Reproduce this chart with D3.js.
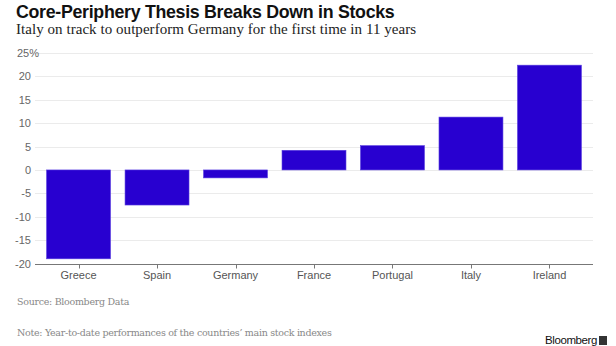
<!DOCTYPE html>
<html lang="en">
<head>
<meta charset="UTF-8">
<title>Core-Periphery Thesis Breaks Down in Stocks</title>
<style>
  body { margin: 0; background: #fff; }
  svg { display: block; }
</style>
</head>
<body>
<svg width="616" height="346"></svg>
<script src="https://d3js.org/d3.v7.min.js"></script>
<script>
var countries = ['Greece', 'Spain', 'Germany', 'France', 'Portugal', 'Italy', 'Ireland'];
var ytdChange = [-19.0, -7.5, -1.7, 4.2, 5.2, 11.3, 22.4];
var yTicks = [-20, -15, -10, -5, 0, 5, 10, 15, 20, 25];

var svg = d3.select('svg');

var x = d3.scaleBand()
    .domain(countries)
    .range([39.5, 588.5])
    .paddingInner(0.185)
    .paddingOuter(0.09);

var y = d3.scaleLinear()
    .domain([-20, 25])
    .range([263.5, 53]);

// horizontal grid
svg.append('g')
  .selectAll('line')
  .data(yTicks.filter(function(d) { return d > -20; }))
  .join('line')
    .attr('x1', 35).attr('x2', 593)
    .attr('y1', function(d) { return Math.round(y(d)) + 0.5; })
    .attr('y2', function(d) { return Math.round(y(d)) + 0.5; })
    .attr('stroke', '#ebebeb');

// y labels
svg.append('g')
  .selectAll('text')
  .data(yTicks)
  .join('text')
    .attr('x', function(d) { return d === 25 ? 39 : 31; })
    .attr('y', function(d) { return y(d) + 4; })
    .attr('text-anchor', 'end')
    .attr('font-family', 'Helvetica, Arial, "Liberation Sans", sans-serif')
    .attr('font-size', 11)
    .attr('fill', '#666')
    .text(function(d) { return d === 25 ? '25%' : d; });

// bars
svg.append('g')
  .selectAll('rect')
  .data(countries)
  .join('rect')
    .attr('x', function(d) { return x(d); })
    .attr('width', x.bandwidth())
    .attr('y', function(d, i) { return y(Math.max(0, ytdChange[i])); })
    .attr('height', function(d, i) { return Math.abs(y(ytdChange[i]) - y(0)); })
    .attr('fill', '#2800d0')
    .attr('stroke', '#5a3fe0')
    .attr('stroke-width', 0.6);

// x axis
var xAxis = svg.append('g')
    .attr('transform', 'translate(0,' + (Math.round(y(-20)) + 0.5) + ')');
xAxis.append('line')
    .attr('x1', 35).attr('x2', 593)
    .attr('stroke', '#777');
xAxis.selectAll('.tick')
  .data(countries)
  .join('line')
    .attr('x1', function(d) { return Math.round(x(d) + x.bandwidth() / 2) + 0.5; })
    .attr('x2', function(d) { return Math.round(x(d) + x.bandwidth() / 2) + 0.5; })
    .attr('y1', 0).attr('y2', 4)
    .attr('stroke', '#777');
xAxis.selectAll('text')
  .data(countries)
  .join('text')
    .attr('x', function(d) { return x(d) + x.bandwidth() / 2; })
    .attr('y', 14)
    .attr('text-anchor', 'middle')
    .attr('font-family', 'Helvetica, Arial, "Liberation Sans", sans-serif')
    .attr('font-size', 11)
    .attr('fill', '#555')
    .text(function(d) { return d; });

// titles
svg.append('text')
    .attr('x', 16).attr('y', 18)
    .attr('font-family', 'Helvetica, Arial, "Liberation Sans", sans-serif')
    .attr('font-weight', 'bold')
    .attr('font-size', 17.8)
    .attr('fill', '#111')
    .attr('letter-spacing', -0.3)
    .text('Core-Periphery Thesis Breaks Down in Stocks');

svg.append('text')
    .attr('x', 16).attr('y', 34)
    .attr('font-family', '"Liberation Serif", "Times New Roman", serif')
    .attr('font-size', 15)
    .attr('fill', '#222')
    .attr('letter-spacing', 0.05)
    .text('Italy on track to outperform Germany for the first time in 11 years');

// footer
svg.append('text')
    .attr('x', 17).attr('y', 305)
    .attr('font-family', '"DejaVu Serif", Georgia, serif')
    .attr('font-size', 9.5)
    .attr('fill', '#888')
    .attr('letter-spacing', -0.3)
    .text('Source: Bloomberg Data');

svg.append('text')
    .attr('x', 17).attr('y', 336)
    .attr('font-family', '"DejaVu Serif", Georgia, serif')
    .attr('font-size', 9.5)
    .attr('fill', '#888')
    .attr('letter-spacing', -0.3)
    .text('Note: Year-to-date performances of the countries\u2019 main stock indexes');

svg.append('text')
    .attr('x', 597).attr('y', 344)
    .attr('text-anchor', 'end')
    .attr('font-family', 'Helvetica, Arial, "Liberation Sans", sans-serif')
    .attr('font-size', 11.5)
    .attr('fill', '#111')
    .attr('letter-spacing', -0.4)
    .text('Bloomberg');

svg.append('rect')
    .attr('x', 599).attr('y', 336)
    .attr('width', 8).attr('height', 9)
    .attr('fill', '#333');
</script>
</body>
</html>
